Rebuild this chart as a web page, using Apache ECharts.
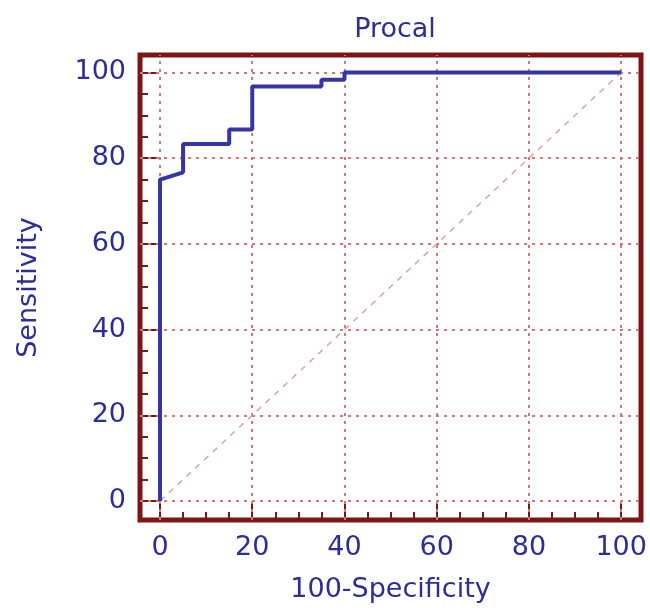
<!DOCTYPE html>
<html lang="en">
<head>
    <meta charset="UTF-8"/>
    <script src="https://cdn.jsdelivr.net/npm/echarts@6/dist/echarts.min.js"></script>
    <title>Procal ROC</title>
    <style>
        html, body { margin: 0; padding: 0; background: #fff; }
        #chart { width: 650px; height: 608px; }
    </style>
</head>
<body>
<div id="chart"></div>
<script type="text/javascript">
    // ROC curve points (100-Specificity, Sensitivity)
    var fpr = [0, 0, 5, 5, 15, 15, 20, 20, 35, 35, 40, 40, 100];
    var tpr = [0, 75, 76.7, 83.3, 83.3, 86.7, 86.7, 96.7, 96.7, 98.3, 98.3, 100, 100];
    var majorTicks = [0, 20, 40, 60, 80, 100];
    var minorTicks = [5, 10, 15, 25, 30, 35, 45, 50, 55, 65, 70, 75, 85, 90, 95];
    var refLine = [[0, 0], [100, 100]];

    var frameColor = '#7a1616';
    var textColor = '#2c2c9c';
    var gridColor = '#cc7b7b';
    var font = 'DejaVu Sans';

    var rocData = [];
    for (var i = 0; i < fpr.length; i++) {
        rocData.push([fpr[i], tpr[i]]);
    }
    var gridMarks = [];
    majorTicks.forEach(function (v) {
        gridMarks.push({xAxis: v});
        gridMarks.push({yAxis: v});
    });

    function axisPair(isX, min, max) {
        var main = {
            type: 'value',
            min: min,
            max: max,
            position: isX ? 'bottom' : 'left',
            axisLine: {show: false, onZero: false},
            splitLine: {show: false},
            axisTick: {
                inside: true, length: 17, customValues: majorTicks,
                lineStyle: {color: frameColor, width: 2}
            },
            axisLabel: {
                customValues: majorTicks, margin: 14,
                color: textColor, fontSize: 27, fontFamily: font
            },
            name: isX ? '100-Specificity' : 'Sensitivity',
            nameLocation: 'middle',
            nameGap: isX ? 56 : 98,
            nameTextStyle: {color: textColor, fontSize: 27, fontFamily: font}
        };
        var minor = {
            type: 'value',
            min: min,
            max: max,
            position: isX ? 'bottom' : 'left',
            axisLine: {show: false, onZero: false},
            splitLine: {show: false},
            axisLabel: {show: false},
            axisTick: {
                inside: true, length: 8, customValues: minorTicks,
                lineStyle: {color: frameColor, width: 2}
            }
        };
        return [main, minor];
    }

    var myChart = echarts.init(document.getElementById('chart'));
    var option = {
        backgroundColor: '#fff',
        animation: false,
        title: {
            text: 'Procal',
            left: 390,
            top: 11,
            textAlign: 'center',
            textStyle: {color: textColor, fontSize: 27, fontWeight: 'normal', fontFamily: font}
        },
        grid: {
            left: 140, right: 9, top: 55, bottom: 88,
            show: true,
            borderColor: frameColor,
            borderWidth: 5,
            backgroundColor: '#fff'
        },
        xAxis: axisPair(true, -4.34, 104.3),
        yAxis: axisPair(false, -4.44, 104.07),
        series: [
            {
                type: 'line',
                data: refLine,
                symbol: 'none',
                silent: true,
                lineStyle: {color: '#dba3a3', width: 1.5, type: [6, 6]},
                markLine: {
                    silent: true,
                    symbol: 'none',
                    z: 1,
                    label: {show: false},
                    lineStyle: {color: gridColor, width: 2, type: [3, 5]},
                    data: gridMarks
                },
                z: 1
            },
            {
                name: 'Procal',
                type: 'line',
                data: rocData,
                symbol: 'none',
                lineStyle: {color: '#3535a6', width: 4},
                z: 10
            }
        ]
    };
    myChart.setOption(option);
</script>
</body>
</html>
